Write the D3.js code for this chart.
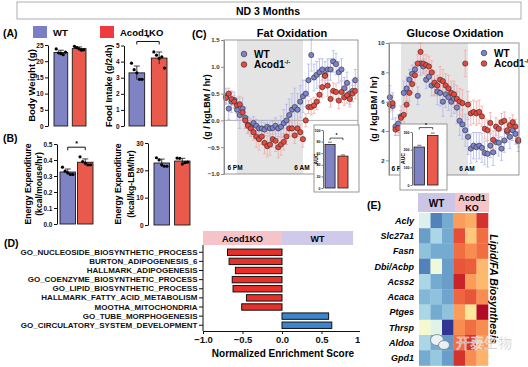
<!DOCTYPE html>
<html>
<head>
<meta charset="UTF-8" />
<title>ND 3 Months</title>
<script src="https://d3js.org/d3.v7.min.js"></script>
<style>
  body { margin: 0; background: #fff; }
  svg { display: block; font-family: "Liberation Sans", Arial, sans-serif; font-weight: bold; }
</style>
</head>
<body>
<div id="fig"></div>
<script>
// ---- data ----
const groups = ['WT', 'Acod1KO'];
const bodyWeight = [[23.8, 22.6, 22.3, 22.0, 22.8], [24.6, 24.2, 23.8, 23.4, 23.5]];
const foodIntake = [[3.9, 3.5, 3.3, 2.9, 2.9], [4.6, 4.4, 4.2, 4.3, 3.6]];
const eeMouse = [[0.355, 0.33, 0.32, 0.31, 0.31], [0.42, 0.39, 0.38, 0.37, 0.37]];
const eeLbm = [[24.6, 23.8, 22.0, 21.5, 21.5], [24.5, 24.4, 22.3, 22.8, 23.0]];

const fatWT = [0.45, 0.22, 0.35, 0.38, 0.2, 0.1, 0.22, 0.05, -0.08, -0.12, -0.05, -0.1, -0.15, -0.15, -0.17, -0.12,
  -0.15, -0.14, -0.1, -0.15, -0.12, -0.05, 0.0, 0.1, 0.2, 0.25, 0.2, 0.35, 0.45, 0.5, 0.75, 1.22, 0.8, 0.85, 0.9,
  0.95, 0.85, 0.95, 0.95, 1.1, 1.05, 0.9, 0.95, 0.6, 0.7, 0.5, 0.55, 0.75];
const fatKO = [0.42, 0.5, 0.4, 0.35, 0.28, 0.3, 0.15, 0.0, -0.1, -0.15, -0.22, -0.3, -0.35, -0.3, -0.42, -0.48,
  -0.45, -0.35, -0.38, -0.5, -0.45, -0.4, -0.3, -0.15, -0.15, -0.28, -0.15, -0.22, -0.35, 0.0, 0.25, 0.25, 0.28,
  0.35, 0.48, 0.62, 0.83, 0.65, 0.4, 0.55, 0.53, 0.37, 0.53, 0.43, 0.47, 0.4, 0.5, 0.55];
const fatWTerr = [0.15, 0.2, 0.2, 0.15, 0.2, 0.25, 0.2, 0.2, 0.15, 0.15, 0.12, 0.12, 0.15, 0.12, 0.12, 0.12, 0.15,
  0.12, 0.15, 0.15, 0.2, 0.25, 0.3, 0.3, 0.3, 0.35, 0.3, 0.3, 0.3, 0.25, 0.3, 0.3, 0.25, 0.25, 0.25, 0.2, 0.25, 0.2,
  0.2, 0.2, 0.2, 0.2, 0.2, 0.2, 0.2, 0.2, 0.2, 0.2];
const fatKOerr = [0.1, 0.1, 0.12, 0.12, 0.15, 0.15, 0.15, 0.15, 0.15, 0.15, 0.15, 0.2, 0.2, 0.15, 0.2, 0.2, 0.2,
  0.15, 0.2, 0.2, 0.2, 0.15, 0.15, 0.12, 0.15, 0.15, 0.15, 0.15, 0.15, 0.12, 0.12, 0.15, 0.15, 0.15, 0.15, 0.2,
  0.15, 0.2, 0.15, 0.15, 0.15, 0.15, 0.2, 0.15, 0.15, 0.15, 0.15, 0.15];

const gluWT = [6.3, 5.7, 4.3, 4.5, 5.0, 6.6, 6.9, 7.5, 7.9, 8.2, 6.4, 8.6, 8.4, 7.5, 7.7, 7.1, 7.2, 6.7, 6.6, 6.0,
  6.5, 6.3, 6.0, 6.2, 5.6, 4.7, 4.45, 4.05, 3.6, 2.8, 3.0, 2.9, 3.0, 2.85, 2.5, 2.45, 3.0, 2.55, 3.25, 3.2, 2.8,
  3.35, 3.95, 3.6, 4.05, 3.8, 3.3];
const gluKO = [5.8, 5.9, 4.1, 4.2, 4.9, 5.1, 5.8, 6.6, 7.2, 7.8, 8.6, 9.4, 8.6, 8.5, 8.4, 8.0, 7.3, 7.1, 7.5, 7.4,
  7.1, 6.9, 6.6, 6.5, 6.2, 6.0, 5.9, 8.6, 5.8, 5.2, 5.3, 5.2, 5.3, 5.0, 4.15, 4.05, 4.55, 3.4, 4.3, 4.15, 4.6, 4.7,
  4.05, 4.4, 4.6, 4.3, 3.4];
const gluWTerr = [0.8, 0.9, 0.6, 0.6, 0.7, 0.8, 0.8, 0.7, 0.6, 0.5, 0.6, 0.8, 0.5, 0.6, 0.7, 0.7, 0.8, 0.9, 0.9,
  1.0, 0.9, 0.9, 1.0, 1.0, 1.1, 1.0, 1.0, 1.1, 1.2, 1.0, 0.9, 1.0, 0.9, 1.0, 0.8, 0.9, 0.8, 0.9, 0.8, 0.9, 0.8, 0.8,
  0.7, 0.8, 0.7, 0.7, 0.7];
const gluKOerr = [0.5, 0.5, 0.4, 0.5, 0.5, 0.5, 0.6, 0.6, 0.6, 0.6, 0.6, 0.6, 0.6, 0.7, 0.7, 0.8, 0.8, 0.7, 0.9,
  0.8, 0.8, 0.9, 0.8, 0.9, 0.9, 0.9, 0.9, 0.9, 0.9, 0.8, 0.8, 0.8, 0.8, 0.7, 0.7, 0.7, 0.7, 0.6, 0.6, 0.6, 0.6, 0.6,
  0.5, 0.5, 0.5, 0.5, 0.5];

const fatAUC = [75, 55], fatAUCerr = [4, 2];
const gluAUC = [215, 280], gluAUCerr = [10, 14];

const gseaTerms = ['GO_NUCLEOSIDE_BIOSYNTHETIC_PROCESS', 'BURTON_ADIPOGENESIS_6', 'HALLMARK_ADIPOGENESIS',
  'GO_COENZYME_BIOSYNTHETIC_PROCESS', 'GO_LIPID_BIOSYNTHETIC_PROCESS', 'HALLMARK_FATTY_ACID_METABOLISM',
  'MOOTHA_MITOCHONDRIA', 'GO_TUBE_MORPHOGENESIS', 'GO_CIRCULATORY_SYSTEM_DEVELOPMENT'];
const gseaNES = [-0.69, -0.67, -0.59, -0.63, -0.62, -0.45, -0.51, 0.59, 0.63];

const genes = ['Acly', 'Slc27a1', 'Fasn', 'Dbi/Acbp', 'Acss2', 'Acaca', 'Ptges', 'Thrsp', 'Aldoa', 'Gpd1'];
const samples = ['WT1', 'WT2', 'WT3', 'KO1', 'KO2', 'KO3'];
const heatZ = [
  [-0.4, -1.5, -1.2, 0.9, 0.8, 1.6],
  [-1.3, -0.8, -1.2, 1.4, 0.6, 1.2],
  [-1.0, -1.2, -1.2, 1.2, 1.0, 1.2],
  [-1.5, -0.2, -1.3, 1.35, 1.3, 0.7],
  [-0.8, -1.2, -1.3, 1.7, 0.9, 0.7],
  [-1.1, -1.0, -1.25, 1.25, 1.35, 1.0],
  [-0.8, -1.2, -1.0, 0.9, 0.3, 1.9],
  [-0.1, -0.35, -2.0, 1.0, 1.2, 1.0],
  [-0.8, -1.2, -1.35, 1.2, 1.6, 0.9],
  [-1.2, -0.95, -1.3, 1.6, 1.0, 0.75]
];

// ---- setup ----
const W = 528, H = 367;
const FONT = '"Liberation Sans", Arial, sans-serif';
const barFill = ['#7f83c4', '#e95a4c'];
const dotFill = ['#7d83cc', '#e8483d'];
const errCol = ['#b3b6ea', '#f5aaa5'];

const svg = d3.select('#fig').append('svg').attr('width', W).attr('height', H);
svg.append('rect').attr('width', W).attr('height', H).attr('fill', '#fff');

function txt(g, x, y, s, size, anchor = 'start') {
  return g.append('text').attr('x', x).attr('y', y).attr('font-size', size)
    .attr('text-anchor', anchor).text(s);
}
function styleAxis(ax, size) {
  ax.attr('font-family', FONT).attr('font-size', size).attr('font-weight', 'bold');
  ax.selectAll('text').attr('fill', '#111');
}

// header
svg.append('rect').attr('x', 17).attr('y', 2).attr('width', 504).attr('height', 17)
  .attr('fill', '#fff').attr('stroke', '#999').attr('stroke-width', 0.8);
txt(svg, 268, 14.5, 'ND 3 Months', 10.5, 'middle');

// panel labels
txt(svg, 3, 37, '(A)', 10.5);
txt(svg, 3, 142, '(B)', 10.5);
txt(svg, 192, 38, '(C)', 10.5);
txt(svg, 4, 247, '(D)', 10.5);
txt(svg, 367, 209, '(E)', 10.5);

// legend A
const legA = svg.append('g');
groups.forEach((gname, i) => {
  const lx = [33, 100][i];
  legA.append('rect').attr('x', lx).attr('y', 26).attr('width', 14).attr('height', 12)
    .attr('fill', ['#7a7ec4', '#ee3b3e'][i]);
  txt(legA, lx + 20, 36, gname, 9.5);
});

// ---- bar panels (A, B) ----
function barPanel(o) {
  const g = svg.append('g');
  const y = d3.scaleLinear().domain(o.domain).range([o.y0, o.y1]);
  const x = d3.scaleBand().domain(groups).range(o.xr).paddingInner(o.pad);
  const stats = o.data.map((v, i) => ({ key: groups[i], i, vals: v, mean: d3.mean(v), sd: d3.deviation(v) }));

  g.selectAll('rect.bar').data(stats).join('rect').attr('class', 'bar')
    .attr('x', d => x(d.key)).attr('y', d => y(d.mean))
    .attr('width', x.bandwidth()).attr('height', d => y(o.domain[0]) - y(d.mean))
    .attr('fill', d => barFill[d.i]).attr('stroke', '#1a1a1a').attr('stroke-width', 0.9);

  const cx = d => x(d.key) + x.bandwidth() / 2;
  g.selectAll('line.err').data(stats).join('line').attr('class', 'err')
    .attr('x1', cx).attr('x2', cx)
    .attr('y1', d => y(d.mean - d.sd)).attr('y2', d => y(d.mean + d.sd))
    .attr('stroke', '#111').attr('stroke-width', 0.8);
  g.selectAll('line.cap').data(stats).join('line').attr('class', 'cap')
    .attr('x1', d => cx(d) - 3).attr('x2', d => cx(d) + 3)
    .attr('y1', d => y(d.mean + d.sd)).attr('y2', d => y(d.mean + d.sd))
    .attr('stroke', '#111').attr('stroke-width', 0.8);

  const dots = stats.flatMap(d => d.vals.map((v, j) => ({ d, v, j })));
  g.selectAll('circle').data(dots).join('circle')
    .attr('cx', p => cx(p.d) + (p.j - 2) * x.bandwidth() * 0.17)
    .attr('cy', p => y(p.v)).attr('r', 1.6).attr('fill', '#000');

  const ax = g.append('g').attr('transform', `translate(${o.ax},0)`)
    .call(d3.axisLeft(y).tickValues(o.ticks).tickFormat(o.fmt).tickSize(3).tickSizeOuter(0).tickPadding(1.5));
  styleAxis(ax, 6.5);
  ax.selectAll('path,line').attr('stroke', '#111').attr('stroke-width', 1);

  o.title.forEach((line, k) => {
    g.append('text')
      .attr('transform', `translate(${o.tx[k]},${(o.y0 + o.y1) / 2}) rotate(-90)`)
      .attr('text-anchor', 'middle').attr('font-size', o.tsize).text(line);
  });

  if (o.sig !== undefined) {
    const sy = y(o.sig), a = cx(stats[0]), b = cx(stats[1]);
    g.append('path').attr('d', `M${a},${sy + 3}V${sy}H${b}V${sy + 3}`)
      .attr('fill', 'none').attr('stroke', '#111').attr('stroke-width', 1);
    txt(g, (a + b) / 2, sy - 1.5, '*', 7, 'middle');
  }
}

barPanel({ data: bodyWeight, domain: [0, 25], ticks: [0, 5, 10, 15, 20, 25], fmt: d3.format('d'),
  y0: 126, y1: 45, ax: 48, xr: [54, 86], pad: 0.25, title: ['Body Weight (g)'], tx: [35], tsize: 9.5 });
barPanel({ data: foodIntake, domain: [0, 5], ticks: [0, 1, 2, 3, 4, 5], fmt: d3.format('d'),
  y0: 126, y1: 45.5, ax: 124, xr: [129, 167], pad: 0.3, title: ['Food Intake (g/24h)'], tx: [112], tsize: 9,
  sig: 5.25 });
barPanel({ data: eeMouse, domain: [0, 0.5], ticks: [0, 0.1, 0.2, 0.3, 0.4, 0.5], fmt: d3.format('.1f'),
  y0: 224, y1: 144, ax: 57, xr: [60, 93], pad: 0.12, title: ['Energy Expenditure', '(kcal/mouse/hr)'],
  tx: [31, 41.5], tsize: 8.6, sig: 0.48 });
barPanel({ data: eeLbm, domain: [0, 30], ticks: [0, 10, 20, 30], fmt: d3.format('d'),
  y0: 225, y1: 143, ax: 148, xr: [154, 190], pad: 0.25, title: ['Energy Expenditure', '(kcal/kg-LBM/hr)'],
  tx: [121, 133.5], tsize: 8.6 });

// ---- time series panels (C) ----
function timePanel(o) {
  const g = svg.append('g');
  const x = d3.scaleLinear().domain(o.xd).range([o.left, o.right]);
  const y = d3.scaleLinear().domain(o.yd).range([o.bottom, o.top]);

  g.append('rect').attr('x', x(0)).attr('y', o.top).attr('width', x(12) - x(0))
    .attr('height', o.bottom - o.top).attr('fill', '#e4e4e4');
  if (o.zero) {
    g.append('line').attr('x1', o.left).attr('x2', o.right).attr('y1', y(0)).attr('y2', y(0))
      .attr('stroke', '#9a9a9a').attr('stroke-width', 0.8);
  }

  const series = [
    { vals: o.wt, err: o.wtErr, i: 0 },
    { vals: o.ko, err: o.koErr, i: 1 }
  ].map(s => ({ ...s, pts: s.vals.map((v, k) => ({ t: -2 + 0.5 * k, v, e: s.err[k] })) }));

  series.forEach(s => {
    const eg = g.append('g').attr('stroke', errCol[s.i]).attr('stroke-width', 0.8);
    eg.selectAll('line.v').data(s.pts).join('line').attr('class', 'v')
      .attr('x1', p => x(p.t)).attr('x2', p => x(p.t))
      .attr('y1', p => y(p.v - p.e)).attr('y2', p => y(p.v + p.e));
    [1, -1].forEach(sg => {
      eg.selectAll('line.c' + (sg + 1)).data(s.pts).join('line').attr('class', 'c' + (sg + 1))
        .attr('x1', p => x(p.t) - 1.6).attr('x2', p => x(p.t) + 1.6)
        .attr('y1', p => y(p.v + sg * p.e)).attr('y2', p => y(p.v + sg * p.e));
    });
  });
  series.forEach(s => {
    g.append('g').selectAll('circle').data(s.pts).join('circle')
      .attr('cx', p => x(p.t)).attr('cy', p => y(p.v)).attr('r', 2.6)
      .attr('fill', dotFill[s.i]).attr('stroke', '#2a2a2a').attr('stroke-width', 0.6);
  });

  g.append('rect').attr('x', o.left).attr('y', o.top).attr('width', o.right - o.left)
    .attr('height', o.bottom - o.top).attr('fill', 'none').attr('stroke', '#8c8c8c').attr('stroke-width', 0.9);
  const ax = g.append('g').attr('transform', `translate(${o.left},0)`)
    .call(d3.axisLeft(y).tickValues(o.ticks).tickFormat(o.fmt).tickSize(3).tickSizeOuter(0).tickPadding(1.5));
  styleAxis(ax, 6);
  ax.selectAll('path,line').attr('stroke', '#8c8c8c');
  ax.selectAll('text').attr('fill', '#333');

  txt(g, x(0) - 2, o.bottom - 4, '6 PM', 6.5, 'middle');
  txt(g, x(12) - 1, o.bottom - 4, '6 AM', 6.5, 'middle');
  txt(g, o.titleX, 37, o.title, 11, 'middle');
  g.append('text').attr('transform', `translate(${o.labelX},${(o.top + o.bottom) / 2}) rotate(-90)`)
    .attr('text-anchor', 'middle').attr('font-size', 9).text('(g / kgLBM / hr)');

  // legend
  [0, 1].forEach(i => {
    const ly = o.legY + i * 10.5;
    g.append('circle').attr('cx', o.legX).attr('cy', ly).attr('r', 2.8)
      .attr('fill', dotFill[i]).attr('stroke', '#2a2a2a').attr('stroke-width', 0.6);
    const t = txt(g, o.legX + 10, ly + 3.6, i ? 'Acod1' : 'WT', 10);
    if (i) t.append('tspan').attr('dy', -4).attr('font-size', 6).text('-/-');
  });

  // inset AUC
  const b = o.inset;
  const ig = g.append('g');
  ig.append('rect').attr('x', b.x0).attr('y', b.y0).attr('width', b.x1 - b.x0).attr('height', b.y1 - b.y0)
    .attr('fill', '#fff').attr('stroke', '#8c8c8c').attr('stroke-width', 0.9);
  const iy = d3.scaleLinear().domain([0, b.max]).range([b.ay0, b.ay1]);
  const ix = d3.scaleBand().domain(groups).range(b.xr).paddingInner(0.22);
  ig.selectAll('rect.ib').data(b.vals).join('rect').attr('class', 'ib')
    .attr('x', (v, i) => ix(groups[i])).attr('y', v => iy(v)).attr('width', ix.bandwidth())
    .attr('height', v => iy(0) - iy(v)).attr('fill', (v, i) => barFill[i])
    .attr('stroke', '#1a1a1a').attr('stroke-width', 0.8);
  const icx = i => ix(groups[i]) + ix.bandwidth() / 2;
  ig.selectAll('line.ie').data(b.vals).join('line').attr('class', 'ie')
    .attr('x1', (v, i) => icx(i) - 2).attr('x2', (v, i) => icx(i) + 2)
    .attr('y1', (v, i) => iy(v + b.err[i])).attr('y2', (v, i) => iy(v + b.err[i]))
    .attr('stroke', '#111').attr('stroke-width', 0.6);
  const iax = ig.append('g').attr('transform', `translate(${b.ax},0)`)
    .call(d3.axisLeft(iy).tickValues(b.ticks).tickSize(1.5).tickSizeOuter(0).tickPadding(1));
  styleAxis(iax, 3.6);
  iax.selectAll('path,line').attr('stroke', '#111').attr('stroke-width', 0.6);
  ig.append('text').attr('transform', `translate(${b.lx},${(b.ay0 + b.ay1) / 2}) rotate(-90)`)
    .attr('text-anchor', 'middle').attr('font-size', 5).text('AUC');
  const sy = iy(b.sig);
  ig.append('path').attr('d', `M${icx(0)},${sy + 2}V${sy}H${icx(1)}V${sy + 2}`)
    .attr('fill', 'none').attr('stroke', '#111').attr('stroke-width', 0.7);
  txt(ig, (icx(0) + icx(1)) / 2, sy - 1, '*', 5, 'middle');
}

timePanel({ wt: fatWT, ko: fatKO, wtErr: fatWTerr, koErr: fatKOerr, xd: [-2.364, 22], yd: [-1, 1.5],
  left: 224, right: 358, top: 40, bottom: 174, zero: true, ticks: [-1, -0.5, 0, 0.5, 1, 1.5],
  fmt: d3.format('.1f'), title: 'Fat Oxidation', titleX: 292, labelX: 210, legX: 244, legY: 54,
  inset: { x0: 314, x1: 359, y0: 125, y1: 192, max: 100, ay0: 188, ay1: 130, xr: [325, 348], ax: 323,
    ticks: [0, 20, 40, 60, 80, 100], vals: fatAUC, err: fatAUCerr, sig: 86, lx: 318 } });
timePanel({ wt: gluWT, ko: gluKO, wtErr: gluWTerr, koErr: gluKOerr, xd: [-2.15, 21.13], yd: [1, 10],
  left: 389, right: 519, top: 43, bottom: 175, zero: false, ticks: [2, 4, 6, 8, 10],
  fmt: d3.format('d'), title: 'Glucose Oxidation', titleX: 455, labelX: 377, legX: 484, legY: 53,
  inset: { x0: 400, x1: 447, y0: 124, y1: 190, max: 300, ay0: 185, ay1: 132, xr: [414, 438], ax: 412,
    ticks: [0, 100, 200, 300], vals: gluAUC, err: gluAUCerr, sig: 325, lx: 405 } });

// ---- GSEA (D) ----
svg.append('clipPath').attr('id', 'clipD').append('rect').attr('x', 0).attr('y', 225).attr('width', 360).attr('height', 142);
const gD = svg.append('g').attr('clip-path', 'url(#clipD)');
const xD = d3.scaleLinear().domain([-1, 1]).range([203, 361]);
const yD = d3.scaleBand().domain(gseaTerms).range([247.7, 329.8]).paddingInner(0.3).paddingOuter(0.15);

gD.append('rect').attr('x', xD(-1)).attr('y', 231).attr('width', xD(0) - xD(-1)).attr('height', 14)
  .attr('fill', '#f5c3c8');
gD.append('rect').attr('x', xD(0)).attr('y', 231).attr('width', xD(0.9) - xD(0)).attr('height', 14)
  .attr('fill', '#cfc9ea');
txt(gD, (xD(-1) + xD(0)) / 2, 241.5, 'Acod1KO', 9, 'middle');
txt(gD, (xD(0) + xD(0.9)) / 2, 241.5, 'WT', 9, 'middle');

gD.selectAll('rect.nes').data(gseaNES).join('rect').attr('class', 'nes')
  .attr('x', v => xD(Math.min(0, v))).attr('y', (v, i) => yD(gseaTerms[i]))
  .attr('width', v => Math.abs(xD(v) - xD(0))).attr('height', yD.bandwidth())
  .attr('fill', v => v < 0 ? '#e8302a' : '#3d85cc').attr('stroke', '#111').attr('stroke-width', 1);

const yAxD = gD.append('g').attr('transform', `translate(${xD(-1)},0)`)
  .call(d3.axisLeft(yD).tickSize(4).tickSizeOuter(0).tickPadding(1.5));
styleAxis(yAxD, 8);
yAxD.select('.domain').remove();
yAxD.selectAll('line').attr('stroke', '#111');
gD.append('line').attr('x1', xD(-1)).attr('x2', xD(-1)).attr('y1', 245).attr('y2', 331)
  .attr('stroke', '#111').attr('stroke-width', 1);
const xAxD = gD.append('g').attr('transform', 'translate(0,331)')
  .call(d3.axisBottom(xD).tickValues([-1, -0.5, 0, 0.5, 1]).tickFormat(d3.format('.1f')).tickSize(3).tickSizeOuter(0).tickPadding(2));
styleAxis(xAxD, 9.5);
xAxD.selectAll('path,line').attr('stroke', '#111').attr('stroke-width', 1);
txt(gD, 283, 356.5, 'Normalized Enrichment Score', 10, 'middle');

// ---- heatmap (E) ----
const gE = svg.append('g');
gE.append('rect').attr('x', 418).attr('y', 193).attr('width', 37).attr('height', 19).attr('fill', '#cbc5e6');
gE.append('rect').attr('x', 455).attr('y', 193).attr('width', 34).attr('height', 19).attr('fill', '#f6c3c6');
txt(gE, 436.5, 206.5, 'WT', 10, 'middle');
txt(gE, 472, 201, 'Acod1', 9, 'middle');
txt(gE, 472, 210.5, 'KO', 9, 'middle');

const xE = d3.scaleBand().domain(samples).range([419, 488]);
const yE = d3.scaleBand().domain(genes).range([213, 365.5]);
const colE = d3.scaleSequential(d3.interpolateRdYlBu).domain([2, -2]);
const cells = heatZ.flatMap((row, r) => row.map((z, c) => ({ gene: genes[r], s: samples[c], z })));
gE.selectAll('rect.cell').data(cells).join('rect').attr('class', 'cell')
  .attr('x', d => xE(d.s)).attr('y', d => yE(d.gene))
  .attr('width', xE.bandwidth() + 0.3).attr('height', yE.bandwidth() + 0.3)
  .attr('fill', d => colE(d.z));
gE.selectAll('text.gene').data(genes).join('text').attr('class', 'gene')
  .attr('x', 414).attr('y', d => yE(d) + yE.bandwidth() / 2).attr('dy', '0.35em')
  .attr('text-anchor', 'end').attr('font-size', 9).attr('font-style', 'italic').text(d => d);
gE.append('text').attr('transform', `translate(${489.5},${289}) rotate(90)`)
  .attr('text-anchor', 'middle').attr('font-size', 10.5).attr('font-style', 'italic')
  .text('Lipid/FA Biosynthesis');

// watermark
const wm = svg.append('g').attr('opacity', 0.85);
wm.append('ellipse').attr('cx', 437).attr('cy', 340).attr('rx', 6.5).attr('ry', 5.5)
  .attr('fill', '#fff').attr('stroke', '#888').attr('stroke-width', 1);
wm.append('ellipse').attr('cx', 444).attr('cy', 345).attr('rx', 5.5).attr('ry', 4.5)
  .attr('fill', '#fff').attr('stroke', '#888').attr('stroke-width', 1);
wm.append('text').attr('x', 456).attr('y', 348).attr('font-size', 14).attr('font-weight', 'normal')
  .attr('font-family', '"Noto Sans CJK SC", sans-serif').attr('fill', '#8a8a8a')
  .attr('stroke', '#fff').attr('stroke-width', 0.6).text('开泰生物');
</script>
</body>
</html>
